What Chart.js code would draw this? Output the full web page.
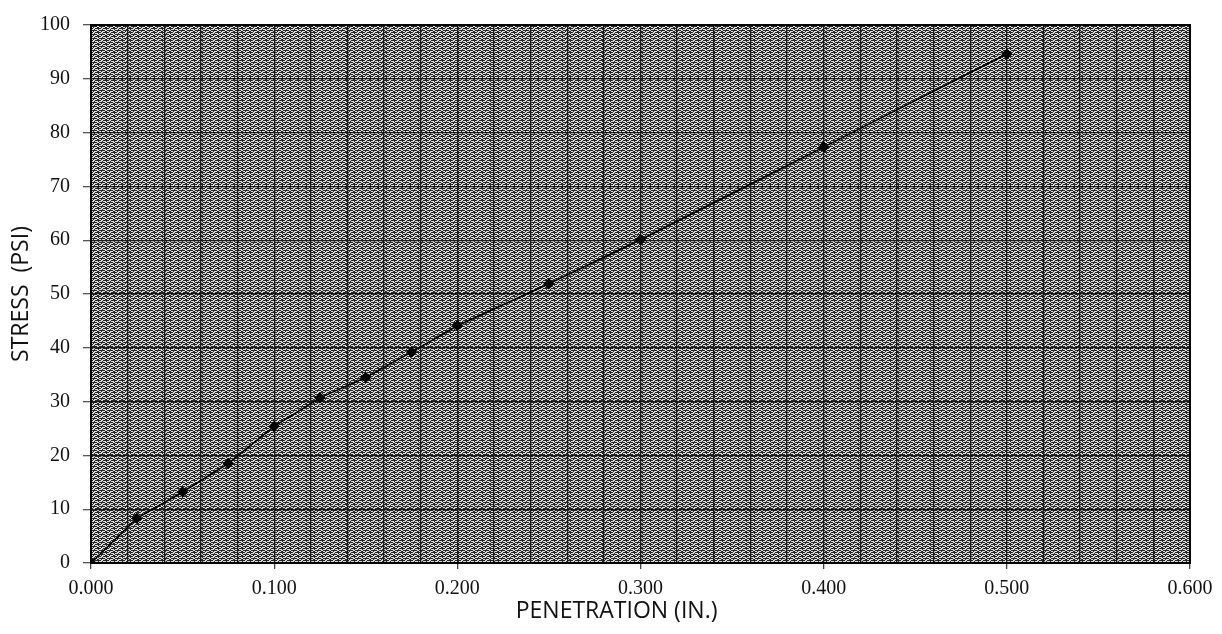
<!DOCTYPE html>
<html>
<head>
<meta charset="utf-8">
<title>Stress vs Penetration</title>
<script src="https://cdn.jsdelivr.net/npm/chart.js@4"></script>
<style>
  html, body { margin: 0; padding: 0; background: #fff; }
  .wrap { width: 1222px; height: 634px; }
</style>
</head>
<body>
<div class="wrap"><canvas id="myChart" width="1222" height="634"></canvas></div>
<script>
/* DATA */

const penetration = [0, 0.025, 0.05, 0.075, 0.1, 0.125, 0.15, 0.175, 0.2, 0.25, 0.3, 0.4, 0.5];
const stress = [0, 8.3, 13.2, 18.5, 25.4, 30.7, 34.5, 39.2, 44.1, 51.9, 60.1, 77.3, 94.6];
const xTickLabels = ['0.000', '0.100', '0.200', '0.300', '0.400', '0.500', '0.600'];
const yTickLabels = ['0', '10', '20', '30', '40', '50', '60', '70', '80', '90', '100'];

/* BACKGROUND PATTERN (scanned graph paper look) */

function makePattern(ctx) {
  const tile = document.createElement('canvas');
  tile.width = 8;
  tile.height = 4;
  const t = tile.getContext('2d');
  t.fillStyle = '#dcdcdc';
  t.fillRect(0, 0, 8, 4);
  t.fillStyle = '#262626';
  // dark dashes, offset row to row
  t.fillRect(0, 0, 5, 1);
  t.fillRect(7, 0, 1, 1);
  t.fillRect(2, 1, 1, 1);
  t.fillRect(6, 1, 1, 1);
  t.fillRect(3, 2, 5, 1);
  t.fillRect(0, 2, 1, 1);
  t.fillRect(1, 3, 2, 1);
  t.fillRect(5, 3, 1, 1);
  return ctx.createPattern(tile, 'repeat');
}

const paperPlugin = {
  id: 'paper',
  beforeDraw(chart) {
    const a = chart.chartArea;
    const ctx = chart.ctx;
    ctx.save();
    ctx.fillStyle = makePattern(ctx);
    ctx.fillRect(a.left, a.top, a.right - a.left, a.bottom - a.top);
    ctx.restore();
  },
  afterDatasetsDraw(chart) {
    const a = chart.chartArea;
    const ctx = chart.ctx;
    ctx.save();
    ctx.strokeStyle = '#000';
    ctx.lineWidth = 2;
    ctx.strokeRect(a.left, a.top, a.right - a.left, a.bottom - a.top);
    ctx.restore();
  }
};

/* CHART */

const points = penetration.map(function(x, i) {
  return { x: x, y: stress[i] };
});

function isMajorX(v) {
  return Math.round(v * 1000) % 100 === 0;
}

var ctx = document.getElementById('myChart').getContext('2d');
// eslint-disable-next-line no-undef
var chart = new Chart(ctx, {
  type: 'scatter',
  data: {
    datasets: [{
      label: 'Stress',
      data: points,
      showLine: true,
      borderColor: '#000',
      backgroundColor: '#000',
      borderWidth: 1.6,
      pointStyle: 'rectRot',
      pointRadius: 4.5,
      pointHoverRadius: 4.5,
      tension: 0
    }]
  },
  plugins: [paperPlugin],
  options: {
    responsive: false,
    animation: false,
    layout: { padding: { top: 0, right: 32, bottom: 0, left: 0 } },
    plugins: {
      legend: { display: false },
      tooltip: { enabled: false }
    },
    scales: {
      x: {
        type: 'linear',
        min: 0,
        max: 0.6,
        afterFit: function(scale) { scale.height = 71; },
        border: { display: false },
        grid: {
          color: '#1a1a1a',
          lineWidth: 1.3,
          tickLength: 6,
          tickColor: function(c) { return isMajorX(c.tick.value) ? '#444' : 'rgba(0,0,0,0)'; }
        },
        ticks: {
          stepSize: 0.02,
          autoSkip: false,
          maxRotation: 0,
          padding: 8,
          color: '#111',
          font: { family: 'Liberation Serif', size: 20 },
          callback: function(v) {
            return isMajorX(v) ? xTickLabels[Math.round(v * 10)] : '';
          }
        },
        title: {
          display: true,
          // trailing spaces nudge the centred title a little left, as in the scan
          text: 'PENETRATION (IN.)        ',
          color: '#111',
          font: { family: 'Open Sans', size: 23 },
          padding: { top: 0, bottom: 9 }
        }
      },
      y: {
        min: 0,
        max: 100,
        afterFit: function(scale) { scale.width = 91; },
        border: { display: false },
        grid: {
          color: '#1a1a1a',
          lineWidth: 1.3,
          tickLength: 8,
          tickColor: '#555'
        },
        ticks: {
          stepSize: 10,
          padding: 13,
          color: '#111',
          font: { family: 'Liberation Serif', size: 20 },
          callback: function(v) { return yTickLabels[Math.round(v / 10)]; }
        },
        title: {
          display: true,
          text: 'STRESS  (PSI)',
          color: '#111',
          font: { family: 'Open Sans', size: 23 },
          padding: { top: 8, bottom: 0 }
        }
      }
    }
  }
});

console.log(chart);
</script>
</body>
</html>
